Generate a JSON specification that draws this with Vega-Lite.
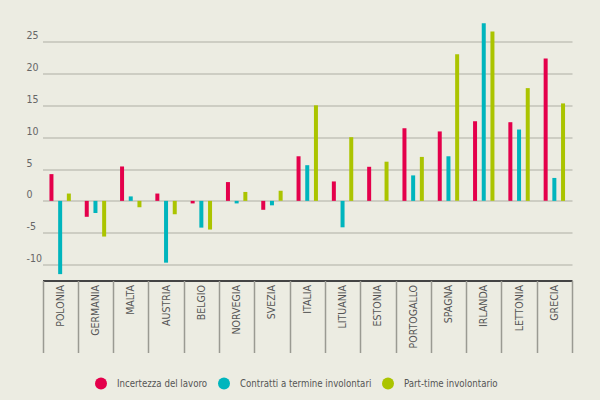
{
  "$schema": "https://vega.github.io/schema/vega-lite/v6.json",
  "width": 546,
  "height": 258,
  "autosize": "none",
  "padding": {"left": 26, "top": 22.5, "right": 28, "bottom": 119.5},
  "background": "#ecece2",
  "config": {
    "view": {"stroke": null},
    "font": "Liberation Sans Narrow, DejaVu Sans Condensed, sans-serif"
  },
  "data": {
    "values": [
      {"paese": "POLONIA", "indicatore": "Incertezza del lavoro", "valore": 4.2},
      {"paese": "POLONIA", "indicatore": "Contratti a termine involontari", "valore": -11.5},
      {"paese": "POLONIA", "indicatore": "Part-time involontario", "valore": 1.15},
      {"paese": "GERMANIA", "indicatore": "Incertezza del lavoro", "valore": -2.5},
      {"paese": "GERMANIA", "indicatore": "Contratti a termine involontari", "valore": -1.9},
      {"paese": "GERMANIA", "indicatore": "Part-time involontario", "valore": -5.6},
      {"paese": "MALTA", "indicatore": "Incertezza del lavoro", "valore": 5.4},
      {"paese": "MALTA", "indicatore": "Contratti a termine involontari", "valore": 0.7},
      {"paese": "MALTA", "indicatore": "Part-time involontario", "valore": -1.0},
      {"paese": "AUSTRIA", "indicatore": "Incertezza del lavoro", "valore": 1.15},
      {"paese": "AUSTRIA", "indicatore": "Contratti a termine involontari", "valore": -9.7},
      {"paese": "AUSTRIA", "indicatore": "Part-time involontario", "valore": -2.1},
      {"paese": "BELGIO", "indicatore": "Incertezza del lavoro", "valore": -0.4},
      {"paese": "BELGIO", "indicatore": "Contratti a termine involontari", "valore": -4.2},
      {"paese": "BELGIO", "indicatore": "Part-time involontario", "valore": -4.5},
      {"paese": "NORVEGIA", "indicatore": "Incertezza del lavoro", "valore": 2.95},
      {"paese": "NORVEGIA", "indicatore": "Contratti a termine involontari", "valore": -0.4},
      {"paese": "NORVEGIA", "indicatore": "Part-time involontario", "valore": 1.4},
      {"paese": "SVEZIA", "indicatore": "Incertezza del lavoro", "valore": -1.4},
      {"paese": "SVEZIA", "indicatore": "Contratti a termine involontari", "valore": -0.7},
      {"paese": "SVEZIA", "indicatore": "Part-time involontario", "valore": 1.6},
      {"paese": "ITALIA", "indicatore": "Incertezza del lavoro", "valore": 7.0},
      {"paese": "ITALIA", "indicatore": "Contratti a termine involontari", "valore": 5.6},
      {"paese": "ITALIA", "indicatore": "Part-time involontario", "valore": 15.0},
      {"paese": "LITUANIA", "indicatore": "Incertezza del lavoro", "valore": 3.05},
      {"paese": "LITUANIA", "indicatore": "Contratti a termine involontari", "valore": -4.15},
      {"paese": "LITUANIA", "indicatore": "Part-time involontario", "valore": 10.0},
      {"paese": "ESTONIA", "indicatore": "Incertezza del lavoro", "valore": 5.35},
      {"paese": "ESTONIA", "indicatore": "Part-time involontario", "valore": 6.15},
      {"paese": "PORTOGALLO", "indicatore": "Incertezza del lavoro", "valore": 11.4},
      {"paese": "PORTOGALLO", "indicatore": "Contratti a termine involontari", "valore": 4.0},
      {"paese": "PORTOGALLO", "indicatore": "Part-time involontario", "valore": 6.9},
      {"paese": "SPAGNA", "indicatore": "Incertezza del lavoro", "valore": 10.9},
      {"paese": "SPAGNA", "indicatore": "Contratti a termine involontari", "valore": 7.0},
      {"paese": "SPAGNA", "indicatore": "Part-time involontario", "valore": 23.0},
      {"paese": "IRLANDA", "indicatore": "Incertezza del lavoro", "valore": 12.5},
      {"paese": "IRLANDA", "indicatore": "Contratti a termine involontari", "valore": 27.9},
      {"paese": "IRLANDA", "indicatore": "Part-time involontario", "valore": 26.6},
      {"paese": "LETTONIA", "indicatore": "Incertezza del lavoro", "valore": 12.35},
      {"paese": "LETTONIA", "indicatore": "Contratti a termine involontari", "valore": 11.2},
      {"paese": "LETTONIA", "indicatore": "Part-time involontario", "valore": 17.7},
      {"paese": "GRECIA", "indicatore": "Incertezza del lavoro", "valore": 22.35},
      {"paese": "GRECIA", "indicatore": "Contratti a termine involontari", "valore": 3.6},
      {"paese": "GRECIA", "indicatore": "Part-time involontario", "valore": 15.3}
    ]
  },
  "mark": {"type": "bar", "width": 4},
  "encoding": {
    "x": {
      "field": "paese",
      "type": "nominal",
      "sort": ["POLONIA", "GERMANIA", "MALTA", "AUSTRIA", "BELGIO", "NORVEGIA", "SVEZIA", "ITALIA", "LITUANIA", "ESTONIA", "PORTOGALLO", "SPAGNA", "IRLANDA", "LETTONIA", "GRECIA"],
      "scale": {"range": [16.5, 546], "paddingInner": 0, "paddingOuter": 0},
      "axis": {
        "title": null,
        "domain": false,
        "tickBand": "extent",
        "ticks": true,
        "tickSize": 72,
        "tickColor": "#9a9a92",
        "tickWidth": 1.5,
        "labelAngle": -90,
        "labelAlign": "right",
        "labelBaseline": "middle",
        "labelPadding": -68,
        "labelFontSize": 10.5,
        "labelColor": "#555555",
        "grid": false
      }
    },
    "xOffset": {
      "field": "indicatore",
      "type": "nominal",
      "sort": ["Incertezza del lavoro", "Contratti a termine involontari", "Part-time involontario"],
      "scale": {"domain": ["Incertezza del lavoro", "Contratti a termine involontari", "Part-time involontario"], "paddingInner": 0, "paddingOuter": 0.53}
    },
    "y": {
      "field": "valore",
      "type": "quantitative",
      "scale": {"domain": [-12.5, 28], "nice": false, "zero": false},
      "axis": {
        "title": null,
        "values": [-12.5, -10, -5, 0, 5, 10, 15, 20, 25],
        "labelExpr": "datum.value == -12.5 ? '' : toString(datum.value)",
        "domain": false,
        "ticks": false,
        "grid": true,
        "gridColor": {"condition": {"test": "datum.value == -12.5", "value": "#444444"}, "value": "#c3c3b9"},
        "gridWidth": {"condition": {"test": "datum.value == -12.5", "value": 2}, "value": 1.5},
        "labelAlign": "left",
        "labelBaseline": "alphabetic",
        "labelPadding": 0,
        "labelOffset": -3,
        "labelFontSize": 10.5,
        "labelColor": "#666666",
        "labelBound": false
      }
    },
    "color": {
      "field": "indicatore",
      "type": "nominal",
      "sort": ["Incertezza del lavoro", "Contratti a termine involontari", "Part-time involontario"],
      "scale": {
        "domain": ["Incertezza del lavoro", "Contratti a termine involontari", "Part-time involontario"],
        "range": ["#e4004b", "#00b5bd", "#abc400"]
      },
      "legend": {
        "title": null,
        "orient": "none",
        "direction": "horizontal",
        "legendX": 69,
        "legendY": 355,
        "symbolType": "circle",
        "symbolSize": 144,
        "symbolStrokeWidth": 0,
        "symbolOpacity": 1,
        "labelOffset": 10,
        "columnPadding": 10,
        "labelFontSize": 9.6,
        "labelColor": "#555555",
        "padding": 0
      }
    }
  }
}
